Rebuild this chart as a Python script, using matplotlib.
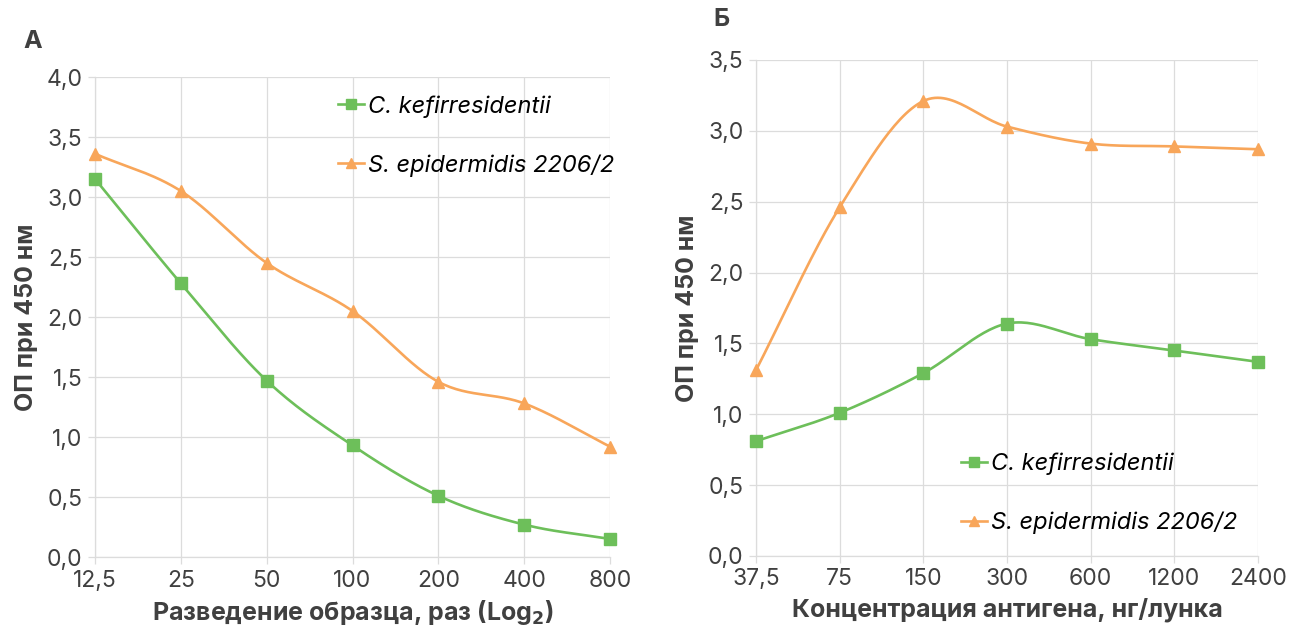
import numpy as np
import matplotlib
matplotlib.use("Agg")
import matplotlib.pyplot as plt

plt.rcParams["font.family"] = ["Inter", "DejaVu Sans"]

# panel A
dilution = ["12,5", "25", "50", "100", "200", "400", "800"]
kefir_a = [3.15, 2.28, 1.47, 0.93, 0.51, 0.27, 0.15]
epid_a = [3.36, 3.05, 2.45, 2.05, 1.46, 1.28, 0.92]

# panel Б
antigen = ["37,5", "75", "150", "300", "600", "1200", "2400"]
kefir_b = [0.81, 1.01, 1.29, 1.64, 1.53, 1.45, 1.37]
epid_b = [1.31, 2.46, 3.21, 3.03, 2.91, 2.89, 2.87]

GREEN = "#6dbf5a"
ORANGE = "#f8a65a"
GRID = "#dcdcdc"
TXT = "#404040"


def smooth(y, n=30):
    # Catmull-Rom curve through the points, like Excel's smoothed line
    y = np.asarray(y, float)
    x = np.arange(len(y), dtype=float)
    px = np.concatenate([[2 * x[0] - x[1]], x, [2 * x[-1] - x[-2]]])
    py = np.concatenate([[2 * y[0] - y[1]], y, [2 * y[-1] - y[-2]]])
    xs, ys = [], []
    t = np.linspace(0, 1, n)
    for i in range(1, len(px) - 2):
        for p, out in ((px, xs), (py, ys)):
            p0, p1, p2, p3 = p[i - 1], p[i], p[i + 1], p[i + 2]
            out.extend(0.5 * (2 * p1 + (-p0 + p2) * t
                              + (2 * p0 - 5 * p1 + 4 * p2 - p3) * t ** 2
                              + (-p0 + 3 * p1 - 3 * p2 + p3) * t ** 3))
    return np.array(xs), np.array(ys)


def draw(ax, labels, kefir, epid, ymax):
    idx = np.arange(len(labels))
    for vals, col, mk, name in ((kefir, GREEN, "s", "C. kefirresidentii"),
                                (epid, ORANGE, "^", "S. epidermidis 2206/2")):
        sx, sy = smooth(vals)
        ax.plot(sx, sy, color=col, lw=1.9, clip_on=False, zorder=3)
        ax.plot(idx, vals, ls="none", marker=mk, ms=8.5, color=col, clip_on=False, zorder=4)
        ax.plot([], [], color=col, lw=1.9, marker=mk, ms=7.5, label=name)
    ax.set_xlim(0, len(labels) - 1)
    ax.set_ylim(0, ymax)
    ax.set_xticks(idx)
    ax.set_xticklabels(labels)
    yt = np.arange(0, ymax + 0.01, 0.5)
    ax.set_yticks(yt)
    ax.set_yticklabels([f"{v:.1f}".replace(".", ",") for v in yt])
    ax.grid(True, color=GRID, lw=0.9)
    ax.set_axisbelow(True)
    for s in ("top", "right"):
        ax.spines[s].set_visible(False)
    for s in ("left", "bottom"):
        ax.spines[s].set_color(GRID)
        ax.spines[s].set_linewidth(0.9)
    ax.tick_params(colors=GRID, labelcolor=TXT, labelsize=16.5, length=5, width=0.9, pad=4)
    ax.set_ylabel("ОП при 450 нм", fontsize=18, fontweight="bold", color=TXT, labelpad=6)


fig = plt.figure(figsize=(13.02, 6.36), dpi=100)

leg_kw = dict(loc="upper left", frameon=False, prop={"style": "italic", "size": 17},
              labelspacing=1.55, handlelength=1.1, handletextpad=0.2, borderaxespad=0)

ax1 = fig.add_axes([0.073, 0.1242, 0.3955, 0.7547])
draw(ax1, dilution, kefir_a, epid_a, 4.0)
ax1.set_xlabel("Разведение образца, раз (Log$_\\mathbf{2}$)", fontsize=18,
               fontweight="bold", color=TXT, labelpad=5)
ax1.legend(bbox_to_anchor=(0.453, 0.982), **leg_kw)
fig.text(0.018, 0.934, "А", fontsize=18, fontweight="bold", color=TXT, va="center")

ax2 = fig.add_axes([0.5806, 0.1258, 0.3856, 0.7799])
draw(ax2, antigen, kefir_b, epid_b, 3.5)
ax2.set_xlabel("Концентрация антигена, нг/лунка", fontsize=18,
               fontweight="bold", color=TXT, labelpad=5)
ax2.legend(bbox_to_anchor=(0.389, 0.227), **leg_kw)
fig.text(0.548, 0.970, "Б", fontsize=18, fontweight="bold", color=TXT, va="center")

fig.savefig("out.png", dpi=100, facecolor="white")
